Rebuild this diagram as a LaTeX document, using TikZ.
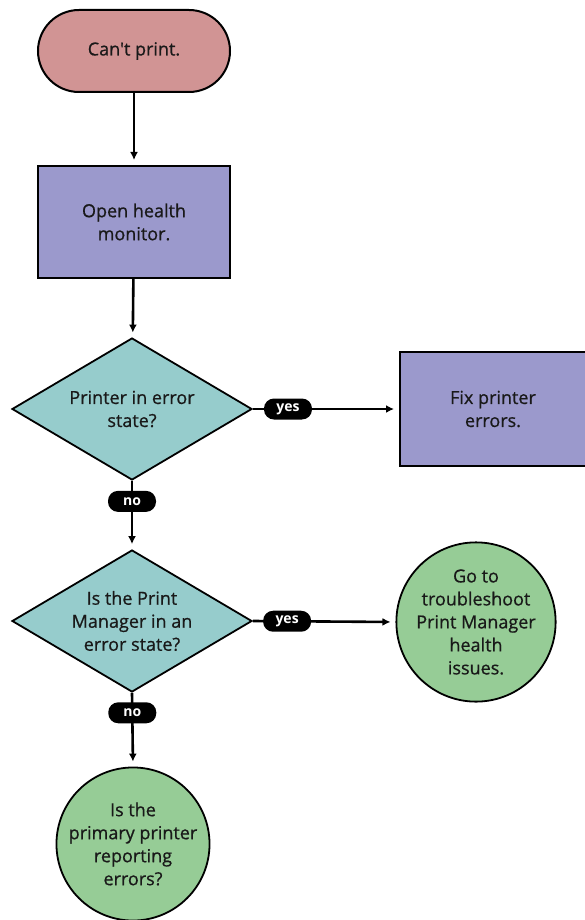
\documentclass[tikz,border=0pt]{standalone}
\usepackage{fontspec}
\setmainfont{Open Sans}
\newfontfamily\boxfont{Open Sans}[FakeBold=0.7]
\usetikzlibrary{shapes,shapes.geometric,arrows.meta}

\begin{document}
\begin{tikzpicture}[x=1pt,y=-1pt]
\tikzstyle{txt}=[text=black!90,font=\boxfont\fontsize{18}{23}\selectfont,align=center]
\tikzstyle{term}=[txt,draw,line width=2pt,rounded corners=41pt,fill=red!40!gray!60!white,minimum width=192pt,minimum height=82pt]
\tikzstyle{act}=[txt,draw,line width=2pt,fill={rgb,255:red,155;green,153;blue,204},minimum width=192pt,minimum height=112pt]
\tikzstyle{ask}=[txt,draw,line width=1.8pt,diamond,aspect=1.7,inner sep=0pt,fill={rgb,255:red,150;green,204;blue,204},minimum width=240pt,minimum height=142pt]
\tikzstyle{stop}=[txt,draw,line width=1.8pt,circle,inner sep=0pt,fill={rgb,255:red,150;green,204;blue,150}]
\tikzstyle{lbl}=[fill=black,text=white,rounded corners=10pt,inner sep=0pt,minimum width=48pt,minimum height=21pt,font=\bfseries\fontsize{14}{14}\selectfont]
\tikzstyle{flow}=[line width=2.6pt,-{Latex[length=8pt,width=8pt]},shorten >=5pt]
\useasboundingbox (0,0) rectangle (584,920);
\fill[white] (0,0) rectangle (584,920);

    \node [term] (cant) at (134,51) {Can't print.};
    \node [act] (open) at (134,222) {Open health\\monitor.};
    \node [ask] (prnerr) at (132,409) {Printer in error\\state?};
    \node [act,minimum width=186pt,minimum height=114pt] (fix) at (493,409) {Fix printer\\errors.};
    \node [ask] (pmerr) at (132,621) {Is the Print\\Manager in an\\error state?};
    \node [stop,minimum size=156pt] (pmgo) at (476,622) {Go to\\troubleshoot\\Print Manager\\health\\issues.};
    \node [stop,minimum size=152pt] (primary) at (133,844) {Is the\\primary printer\\reporting\\errors?};

    \draw[flow] (cant) -- (open);
    \draw[flow] (open) -- (prnerr);
    \draw[flow] (prnerr.east) -- node[lbl,pos=0.24] (yesone) {yes} (fix.west);
    \draw[flow] (prnerr.south) -- node[lbl,pos=0.3] (noone) {no} (pmerr.north);
    \draw[flow] (pmerr.east) -- node[lbl,pos=0.24] (yestwo) {yes} (pmgo.west);
    \draw[flow] (pmerr.south) -- node[lbl,pos=0.27] (notwo) {no} (primary.north);
\end{tikzpicture}
\end{document}
